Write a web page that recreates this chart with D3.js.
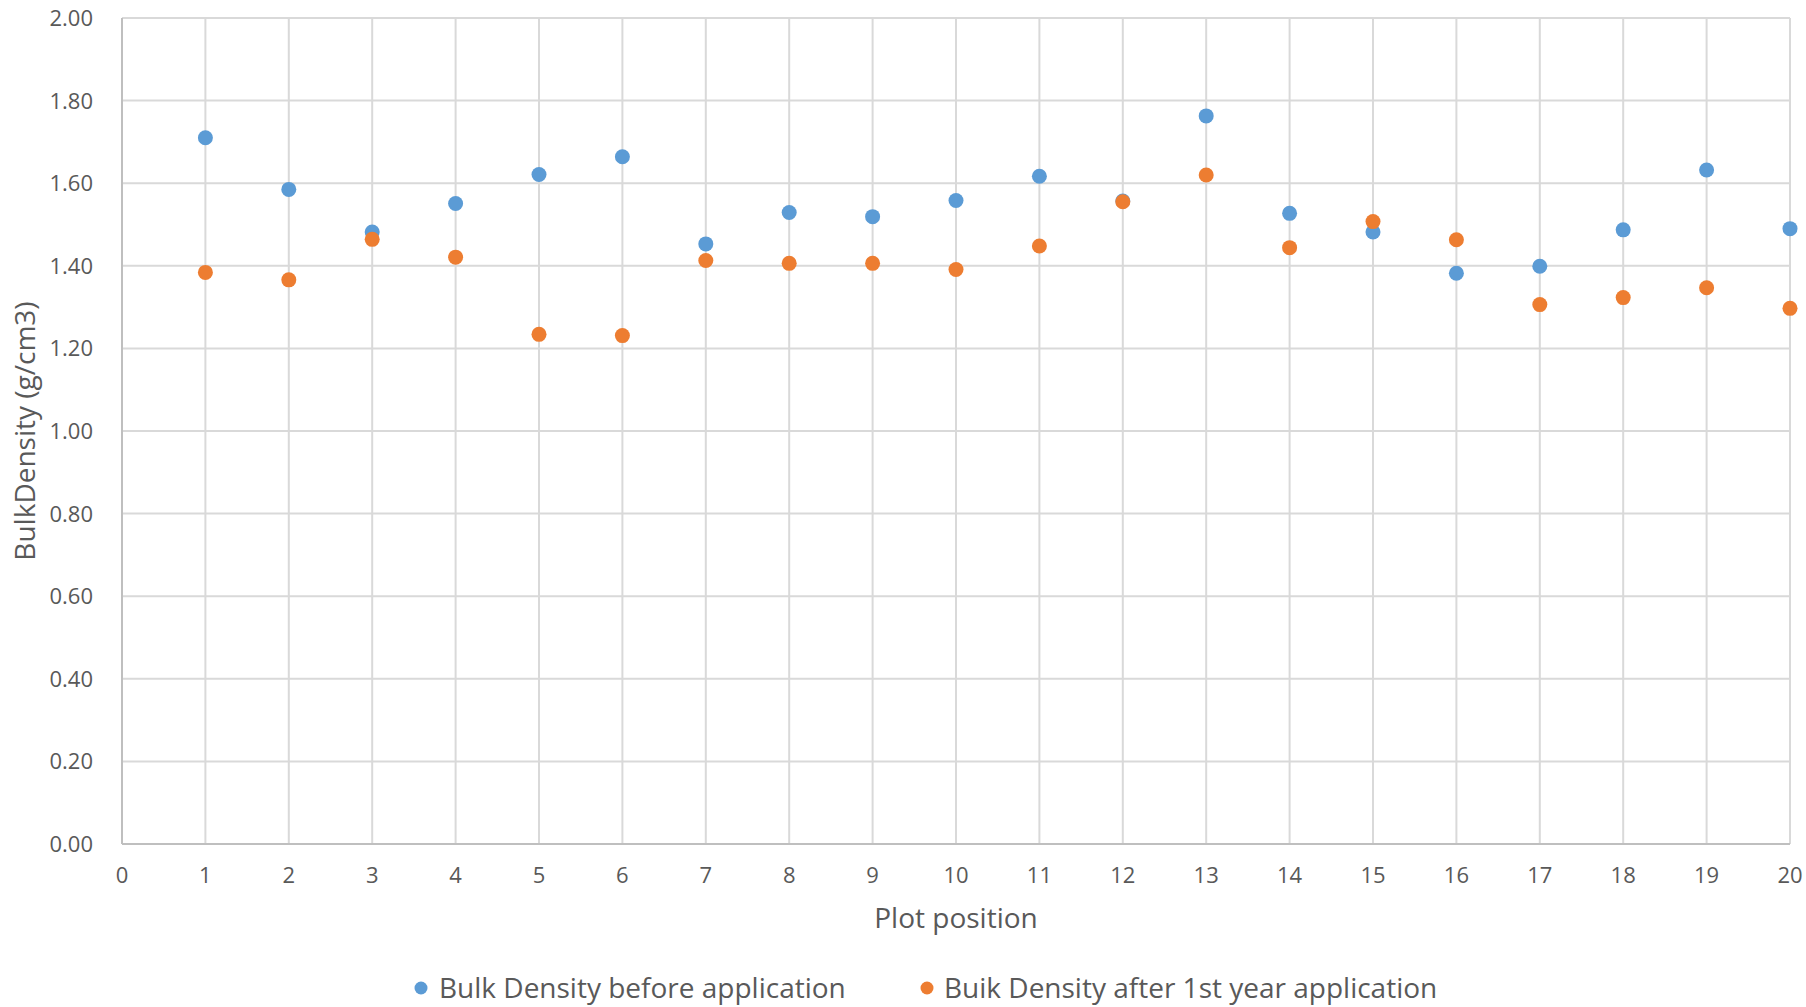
<!DOCTYPE html>
<html lang="en">
<head>
  <meta charset="UTF-8">
  <style>
    body { margin: 0; background: #fff; }
    svg { font-family: "Open Sans", sans-serif; }
    .grid line { stroke: #d9d9d9; stroke-width: 2px; }
    .tick-label { fill: #595959; font-size: 22px; }
    .title { fill: #595959; font-size: 28px; }
    .legend { fill: #595959; font-size: 28px; }
  </style>
</head>
<body>
  <script src="https://d3js.org/d3.v7.min.js"></script>
  <svg></svg>
  <script>

// data
const positions = d3.range(1, 21);
const before = [1.710, 1.585, 1.482, 1.551, 1.621, 1.664, 1.453, 1.529, 1.519, 1.558,
                1.617, 1.557, 1.763, 1.527, 1.482, 1.382, 1.399, 1.487, 1.632, 1.490];
const after = [1.384, 1.366, 1.464, 1.421, 1.234, 1.231, 1.413, 1.406, 1.406, 1.391,
               1.448, 1.555, 1.620, 1.444, 1.507, 1.463, 1.306, 1.323, 1.347, 1.297];
const xTicks = d3.range(0, 21);
const yTicks = d3.range(0, 2.01, 0.2);
const seriesNames = ["Bulk Density before application", "Buik Density after 1st year application"];
const colors = ["#5b9bd5", "#ed7d31"];

const w = 1806, h = 1007;
const plotL = 122, plotR = 1790, plotT = 18, plotB = 844;

const svg = d3.select("svg").attr("width", w).attr("height", h);

const x = d3.scaleLinear().domain([0, 20]).range([plotL, plotR]);
const y = d3.scaleLinear().domain([0, 2]).range([plotB, plotT]);

//gridlines
const grid = svg.append("g").attr("class", "grid");
grid.selectAll(".h").data(yTicks).enter().append("line")
    .attr("x1", plotL).attr("x2", plotR)
    .attr("y1", d => y(d)).attr("y2", d => y(d));
grid.selectAll(".v").data(xTicks).enter().append("line")
    .attr("y1", plotT).attr("y2", plotB)
    .attr("x1", d => x(d)).attr("x2", d => x(d));

//axis lines
svg.append("line").attr("x1", plotL).attr("x2", plotL).attr("y1", plotT).attr("y2", plotB)
   .attr("stroke", "#bfbfbf").attr("stroke-width", 2);
svg.append("line").attr("x1", plotL).attr("x2", plotR).attr("y1", plotB).attr("y2", plotB)
   .attr("stroke", "#bfbfbf").attr("stroke-width", 2);

//tick labels
svg.append("g").selectAll("text").data(yTicks).enter().append("text")
   .attr("class", "tick-label")
   .attr("x", 93).attr("y", d => y(d) + 8)
   .attr("text-anchor", "end")
   .text(d => d3.format(".2f")(d));

svg.append("g").selectAll("text").data(xTicks).enter().append("text")
   .attr("class", "tick-label")
   .attr("x", d => x(d)).attr("y", 883)
   .attr("text-anchor", "middle")
   .text(d => d);

//points
[before, after].forEach((vals, s) => {
  svg.append("g").selectAll("circle").data(vals).enter().append("circle")
     .attr("cx", (d, i) => x(positions[i]))
     .attr("cy", d => y(d))
     .attr("r", 7.5)
     .attr("fill", colors[s]);
});

//axis titles
svg.append("text").attr("class", "title")
   .attr("x", (plotL + plotR) / 2).attr("y", 928)
   .attr("text-anchor", "middle")
   .text("Plot position");

svg.append("text").attr("class", "title")
   .attr("transform", "rotate(-90)")
   .attr("x", -(plotT + plotB) / 2).attr("y", 35)
   .attr("text-anchor", "middle")
   .text("BulkDensity (g/cm3)");

//legend
const legendX = [[421, 439], [927, 944]];
seriesNames.forEach((name, s) => {
  svg.append("circle").attr("cx", legendX[s][0]).attr("cy", 988).attr("r", 6.5).attr("fill", colors[s]);
  svg.append("text").attr("class", "legend")
     .attr("x", legendX[s][1]).attr("y", 998)
     .text(name);
});

  </script>
</body>
</html>
